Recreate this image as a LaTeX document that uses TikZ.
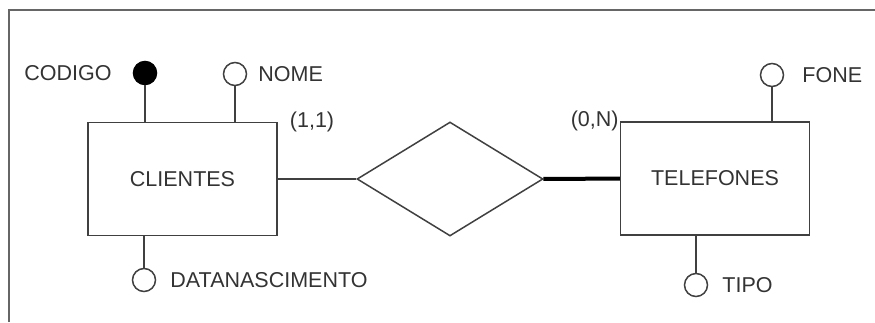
\documentclass[tikz,border=0pt]{standalone}
\usepackage{fontspec}
\setmainfont{Liberation Sans}
\usetikzlibrary{positioning,shapes.geometric}

\begin{document}
\begin{tikzpicture}[x=1pt, y=-1pt,
  every node/.style={font=\fontsize{21.5}{25}\selectfont, text=black!80},
  linha/.style={draw=black!75, line width=1.5pt},
  entidade/.style={linha, rectangle, minimum width=189pt, minimum height=113pt, inner sep=0pt},
  relacao/.style={linha, diamond, minimum width=186pt, minimum height=114pt, inner sep=0pt},
  atributo/.style={linha, circle, minimum size=23pt, inner sep=0pt},
  chave/.style={atributo, fill=black, draw=black},
  rotulo/.style={inner sep=0pt}]
\useasboundingbox (0,0) rectangle (875,322);

% moldura
\draw[black!60, line width=1.5pt] (9,322) -- (9,10) -- (875,10);

% entidades e relacionamento
\node[entidade] (clientes) at (182.5,179) {CLIENTES};
\node[relacao] (tem) at (450,179) {};
\node[entidade] (telefones) at (715,178.5) {TELEFONES};

\draw[linha] (clientes) -- (tem);
\draw[line width=4pt] (tem) -- (telefones);

\node[rotulo, right=12pt of clientes.north east] (card-cli) {(1,1)};
\node[rotulo, left=1pt of telefones.north west] (card-tel) {(0,N)};

% atributos de CLIENTES
\node[chave] (codigo) at (145,73) {};
\node[atributo] (nome) at (235,74) {};
\node[atributo] (datanasc) at (144,280) {};
\node[rotulo, left=21pt of codigo] (l-codigo) {CODIGO};
\node[rotulo, right=11pt of nome] (l-nome) {NOME};
\node[rotulo, right=14pt of datanasc] (l-datanasc) {DATANASCIMENTO};
\draw[linha] (codigo) -- (codigo |- clientes.north);
\draw[linha] (nome) -- (nome |- clientes.north);
\draw[linha] (datanasc) -- (datanasc |- clientes.south);

% atributos de TELEFONES
\node[atributo] (fone) at (772,75) {};
\node[atributo] (tipo) at (696,285) {};
\node[rotulo, right=18pt of fone] (l-fone) {FONE};
\node[rotulo, right=14pt of tipo] (l-tipo) {TIPO};
\draw[linha] (fone) -- (fone |- telefones.north);
\draw[linha] (tipo) -- (tipo |- telefones.south);
\end{tikzpicture}
\end{document}
